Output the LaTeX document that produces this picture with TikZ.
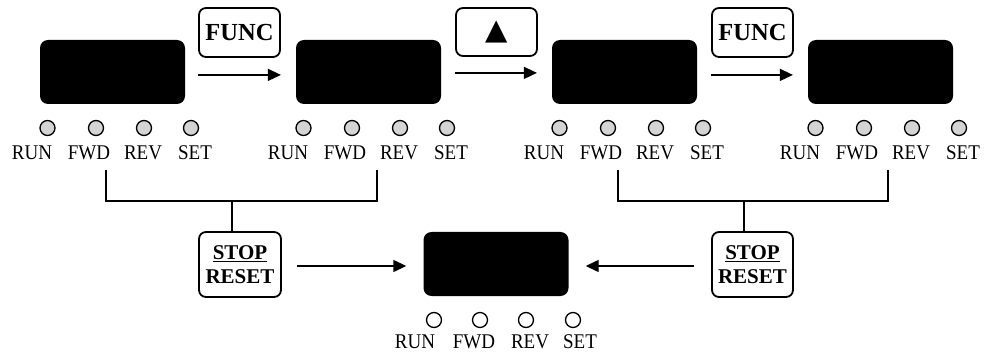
\documentclass[tikz,border=0pt]{standalone}
\usepackage{fontspec}
\setmainfont{Liberation Serif}
\newfontfamily\symfont{DejaVu Sans}
\usetikzlibrary{arrows.meta}
\definecolor{ledgray}{RGB}{212,212,212}

% caption text, set a little taller than the plain font
\newcommand\tallcap[1]{\scalebox{1}[1.1]{#1}}

% one row of four status LEDs with their captions
% #1 name prefix, #2 left edge of the display, #3 LED fill
\newcommand\ledrow[3]{%
  \foreach \txt/\n/\lx/\tx in {RUN/run/7.5/-8, FWD/fwd/56/49, REV/rev/104/103, SET/set/151/155}{%
    \node[led, fill=#3] (#1-\n) at (#2+\lx,128) {};
    \node[ledlabel] (#1-\n-t) at (#2+\tx,153) {\tallcap{\txt}};
  }%
}

\begin{document}
\begin{tikzpicture}[x=1pt,y=-1pt,
  display/.style={fill=black, rounded corners=8pt, minimum width=145pt,
    minimum height=64pt, inner sep=0pt},
  key/.style={draw, line width=1.8pt, rounded corners=7pt, minimum width=81pt,
    inner sep=0pt, align=center},
  led/.style={circle, draw, line width=1.3pt, minimum size=15pt, inner sep=0pt},
  ledlabel/.style={inner sep=0pt, font=\fontsize{19}{19}\selectfont},
  wire/.style={line width=1.8pt},
  arr/.style={line width=1.4pt, -{Triangle[length=13pt,width=12pt]}}]

\useasboundingbox (0,0) rectangle (987,355);

% displays
\node[display] (d1) at (112.5,72) {};
\node[display] (d2) at (368.5,72) {};
\node[display] (d3) at (624.5,72) {};
\node[display] (d4) at (880.5,72) {};
\node[display] (d5) at (496,264) {};

% LED rows
\ledrow{p1}{40}{ledgray}
\ledrow{p2}{296}{ledgray}
\ledrow{p3}{552}{ledgray}
\ledrow{p4}{808}{ledgray}
\foreach \txt/\n/\lx/\tx in {RUN/run/10/-9, FWD/fwd/56/50, REV/rev/102/106, SET/set/149/156}{
  \node[led, fill=white] (p5-\n) at (424+\lx,320) {};
  \node[ledlabel] (p5-\n-t) at (424+\tx,342) {\tallcap{\txt}};
}

% keys
\node[key, minimum height=49pt, font=\bfseries\fontsize{24.5}{24.5}\selectfont]
  (f1) at (239.5,32.5) {FUNC};
\node[key, minimum height=48pt, font=\symfont\fontsize{29}{29}\selectfont]
  (up) at (496.5,32) {▲};
\node[key, minimum height=49pt, font=\bfseries\fontsize{24.5}{24.5}\selectfont]
  (f2) at (752.5,32.5) {FUNC};
\node[key, minimum width=82pt, minimum height=65pt,
  font=\bfseries\fontsize{21}{23.5}\selectfont]
  (s1) at (240,264.5) {\underline{STOP}\\RESET};
\node[key, minimum height=65pt, font=\bfseries\fontsize{21}{23.5}\selectfont]
  (s2) at (752.5,264.5) {\underline{STOP}\\RESET};

% key arrows between displays
\draw[arr] ([yshift=-17pt]f1.south west) -- ([yshift=-17pt]f1.south east);
\draw[arr] ([yshift=-16pt]up.south west) -- ([yshift=-16pt,xshift=-1pt]up.south east);
\draw[arr] ([yshift=-17pt]f2.south west) -- ([yshift=-17pt,xshift=-1pt]f2.south east);

% brackets joining the displays that STOP/RESET acts on
\coordinate (b1a) at (106,170);
\coordinate (b1b) at (377,170);
\coordinate (b1j) at (232,201);
\coordinate (b2a) at (618,170);
\coordinate (b2b) at (888,170);
\coordinate (b2j) at (744,201);
\draw[wire] (b1a) |- (b1j) -| (b1b);
\draw[wire] (b1j) -- (b1j |- s1.north);
\draw[wire] (b2a) |- (b2j) -| (b2b);
\draw[wire] (b2j) -- (b2j |- s2.north);

% STOP/RESET arrows into the bottom display
\draw[arr] ([xshift=15pt,yshift=-1.5pt]s1.east) -- ([xshift=-17pt,yshift=-2pt]d5.west);
\draw[arr] ([xshift=-17pt,yshift=-1.5pt]s2.west) -- ([xshift=17pt,yshift=-2pt]d5.east);

\end{tikzpicture}
\end{document}
